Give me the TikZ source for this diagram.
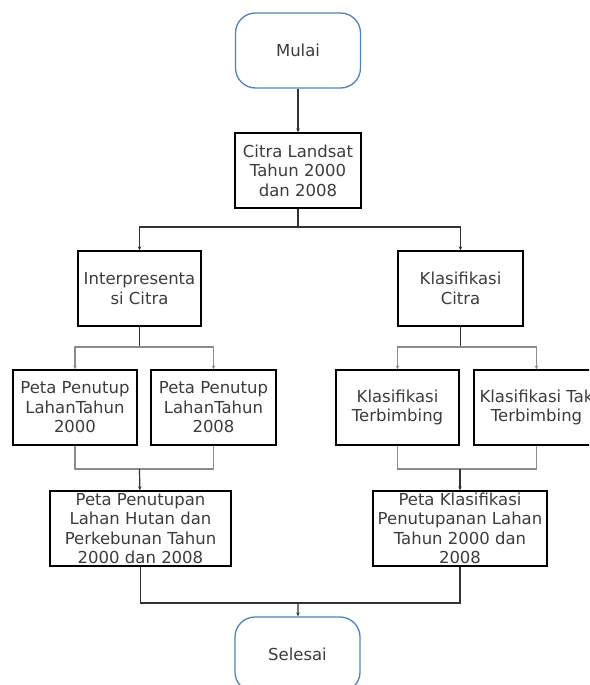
\documentclass[tikz,border=0pt]{standalone}
\usepackage{fontspec}
\newfontfamily\flowfont{DejaVu Sans}
\usetikzlibrary{arrows.meta}
\definecolor{termblue}{RGB}{79,129,189}
\definecolor{flowtext}{RGB}{60,60,60}
\definecolor{branchgray}{RGB}{140,140,140}
\tikzset{
  flowbox/.style={draw=black, line width=1.3pt, minimum height=75pt, inner sep=0pt,
    align=center, text=flowtext, font=\flowfont\fontsize{16.5}{19.5}\selectfont},
  termbox/.style={flowbox, draw=termblue, rounded corners=20pt, minimum width=125pt},
  trunk/.style={draw=black!80, line width=1.2pt},
  branch/.style={draw=branchgray, line width=1.2pt},
  tip/.style={-{Stealth[length=4pt,width=3.5pt]}}
}

\begin{document}
\begin{tikzpicture}[x=1pt,y=-1pt]
\useasboundingbox (0,0) rectangle (589,685);
\clip (0,0) rectangle (589,685);

% nodes
\node[termbox] (mulai) at (298,50.5) {Mulai};
\node[flowbox, minimum width=126pt] (landsat) at (298,170.5) {Citra Landsat\\Tahun 2000\\dan 2008};
\node[flowbox, minimum width=123pt] (interp) at (139.5,288.5) {Interpresenta\\si Citra};
\node[flowbox, minimum width=125pt] (klas) at (460.5,288.5) {Klasifikasi\\Citra};
\node[flowbox, minimum width=124pt] (peta2000) at (75,407.5) {Peta Penutup\\LahanTahun\\2000};
\node[flowbox, minimum width=125pt] (peta2008) at (213.5,407.5) {Peta Penutup\\LahanTahun\\2008};
\node[flowbox, minimum width=123pt] (terb) at (397.5,407.5) {Klasifikasi\\Terbimbing};
\node[flowbox, minimum width=125pt] (takterb) at (536.5,407.5) {Klasifikasi Tak\\Terbimbing};
\node[flowbox, minimum width=181pt] (penutupan) at (140.5,528.5) {Peta Penutupan\\Lahan Hutan dan\\Perkebunan Tahun\\2000 dan 2008};
\node[flowbox, minimum width=174pt] (klaspeta) at (460,528.5) {Peta Klasifikasi\\Penutupanan Lahan\\Tahun 2000 dan\\2008};
\node[termbox] (selesai) at (297.5,654.5) {Selesai};

% split and merge points
\coordinate (s1) at (298,227);
\coordinate (s2) at (139.5,347);
\coordinate (s3) at (460.5,347);
\coordinate (m1) at (139.5,469);
\coordinate (m2) at (460,469);
\coordinate (m3) at (298,603);

% connectors
\draw[trunk,tip] (mulai) -- (landsat);
\draw[trunk] (landsat) -- (s1);
\draw[trunk,tip] (s1) -| (interp);
\draw[trunk,tip] (s1) -| (klas);
\draw[trunk] (interp) -- (s2);
\draw[branch,tip] (s2) -| (peta2000);
\draw[branch,tip] (s2) -| (peta2008);
\draw[trunk] (klas) -- (s3);
\draw[branch,tip] (s3) -| (terb);
\draw[branch,tip] (s3) -| (takterb);
\draw[branch] (peta2000) |- (m1) -| (peta2008);
\draw[trunk,tip] (m1) -- (penutupan);
\draw[branch] (terb) |- (m2) -| (takterb);
\draw[trunk,tip] (m2) -- (klaspeta);
\draw[trunk] (penutupan) |- (m3) -| (klaspeta);
\draw[trunk,tip] (m3) -- (selesai);
\end{tikzpicture}
\end{document}
